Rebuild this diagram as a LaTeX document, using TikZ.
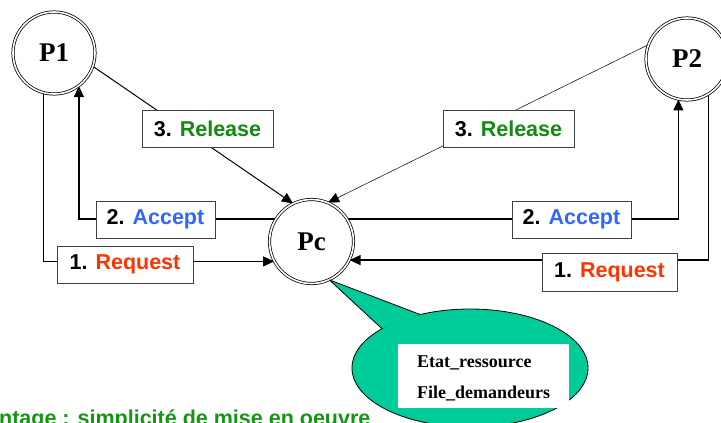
\documentclass[tikz,border=0pt]{standalone}
\usepackage{fontspec}
\setmainfont{Liberation Serif}
\newfontfamily\labelfont{Liberation Sans}
\usetikzlibrary{arrows.meta,backgrounds}
\definecolor{relgreen}{RGB}{16,138,16}
\definecolor{accblue}{RGB}{51,102,255}
\definecolor{reqred}{RGB}{255,51,0}
\definecolor{notegreen}{RGB}{0,204,153}
\definecolor{textgreen}{RGB}{20,150,20}

\begin{document}
\begin{tikzpicture}[x=1pt,y=-1pt,
  proc/.style={circle, draw=black, double=white, line width=0.75pt,
    double distance=1.6pt, fill=white, inner sep=0pt, minimum size=82pt,
    font=\fontsize{27}{30}\selectfont\bfseries},
  msg/.style={draw=black!75, line width=0.8pt, fill=white,
    minimum height=37pt, inner sep=0pt,
    font=\labelfont\bfseries\fontsize{21.5}{24}\selectfont},
  link/.style={line width=1.2pt},
  tip/.style={-{Triangle[length=11pt,width=10pt]}},
  notetext/.style={anchor=base west, inner sep=0pt,
    font=\fontsize{18}{20}\selectfont\bfseries},
]
\useasboundingbox (0,0) rectangle (721,423);
\clip (0,0) rectangle (721,423);

% processes
\node[proc] (P1) at (54,53) {P1};
\node[proc] (P2) at (687,59) {P2};
\node[proc, minimum size=84pt] (Pc) at (311.5,241.5) {Pc};

% message labels
\node[msg, minimum width=131pt] (rel1) at (207.5,128.5) {3. \textcolor{relgreen}{Release}};
\node[msg, minimum width=131pt] (rel2) at (508.5,129) {3. \textcolor{relgreen}{Release}};
\node[msg, minimum width=119pt] (acc1) at (155.5,219.5) {2. \textcolor{accblue}{Accept}};
\node[msg, minimum width=119pt] (acc2) at (571.5,219.5) {2. \textcolor{accblue}{Accept}};
\node[msg, minimum width=136pt] (req1) at (125,264.5) {1. \textcolor{reqred}{Request}};
\node[msg, minimum width=135pt, minimum height=38pt] (req2) at (609.5,272) {1. \textcolor{reqred}{Request}};

% connectors behind the nodes
\begin{pgfonlayer}{background}
  \draw[line width=1pt, tip] (P1.-19) -- (Pc.116);
  \draw[line width=0.5pt, tip] (P2.160) -- (Pc.67);
  \draw[link, tip] (Pc.148) -| (P1.-53.5);
  \draw[link, tip] (P1.-105) |- (Pc.-152);
  \draw[link, tip] (Pc.32) -| (P2.-102);
  \draw[link, tip] (P2.-59) |- (Pc.-26);
\end{pgfonlayer}

% caption line at the bottom
\node[anchor=base west, inner sep=0pt, text=textgreen,
  font=\labelfont\bfseries\fontsize{21.5}{24}\selectfont] (adv) at (-1,425)
  {ntage : simplicité de mise en oeuvre};

% speech bubble attached to Pc
\coordinate (noteC) at (470,368);
\coordinate (ptA) at (420.1,314.5);
\coordinate (ptB) at (382,328.7);
\draw[fill=notegreen, line width=0.8pt] (noteC) ellipse [x radius=118, y radius=59];
\fill[notegreen] (Pc.-65) -- (ptA) -- (ptB) -- cycle;
\draw[line width=0.8pt, line join=round] (ptA) -- (Pc.-65) -- (ptB);

\node[fill=white, minimum width=171pt, minimum height=64pt, inner sep=0pt] (state) at (483.5,376) {};
\node[notetext] (st1) at (417,367) {Etat\_ressource};
\node[notetext] (st2) at (417,398) {File\_demandeurs};
\end{tikzpicture}
\end{document}
